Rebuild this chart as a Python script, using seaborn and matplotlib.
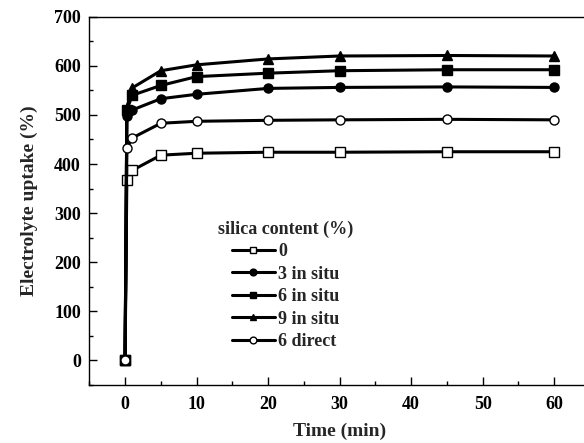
import numpy as np
import pandas as pd
import matplotlib
matplotlib.use('Agg')
import matplotlib.pyplot as plt
import seaborn as sns
from matplotlib.ticker import MultipleLocator

# data
time_min = [0, 0.25, 1, 5, 10, 20, 30, 45, 60]
uptake_0 = [0, 368, 387, 418, 422, 424, 424, 425, 425]
uptake_3_insitu = [0, 497, 510, 533, 542, 554, 556, 557, 556]
uptake_6_insitu = [0, 510, 540, 560, 578, 585, 590, 592, 592]
uptake_9_insitu = [0, 515, 555, 590, 602, 614, 620, 621, 620]
uptake_6_direct = [0, 433, 453, 483, 487, 489, 490, 491, 490]
labels = ['0', '3 in situ', '6 in situ', '9 in situ', '6 direct']

sns.set_style('ticks')
plt.rcParams['font.family'] = ['Liberation Serif', 'DejaVu Serif']
plt.rcParams['font.weight'] = 'bold'

fig = plt.figure(figsize=(5.84, 4.43), dpi=100)
ax = fig.add_axes([0.1529, 0.1309, 1.0103 - 0.1529, 0.9623 - 0.1309])

series = [uptake_0, uptake_3_insitu, uptake_6_insitu, uptake_9_insitu, uptake_6_direct]
markers = ['s', 'o', 's', '^', 'o']
faces = ['white', 'black', 'black', 'black', 'white']
for y, lab, m, fc in zip(series, labels, markers, faces):
    sns.lineplot(x=time_min, y=y, ax=ax, color='black', lw=2.2, marker=m,
                 markersize=6.5, markerfacecolor=fc, markeredgecolor='black',
                 markeredgewidth=1.0, label=lab)

ax.set_xlim(-5, 65)
ax.set_ylim(-50, 700)
ax.xaxis.set_major_locator(MultipleLocator(10))
ax.xaxis.set_minor_locator(MultipleLocator(5))
ax.yaxis.set_major_locator(MultipleLocator(100))
ax.yaxis.set_minor_locator(MultipleLocator(50))
ax.tick_params(which='both', direction='in', width=1, colors='black', labelsize=13)
ax.tick_params(which='major', length=6)
ax.tick_params(which='minor', length=3)
ax.tick_params(axis='x', pad=8)
ax.tick_params(axis='y', pad=6)
for sp in ax.spines.values():
    sp.set_linewidth(1)
    sp.set_color('black')

ax.set_xlabel('Time (min)', fontsize=14, fontweight='bold', labelpad=7)
ax.set_ylabel('Electrolyte uptake (%)', fontsize=14, fontweight='bold', labelpad=12)

leg = ax.legend(title='silica content (%)', loc='upper left', bbox_to_anchor=(0.239, 0.471),
                frameon=False, fontsize=13, title_fontsize=13, handlelength=2.4,
                handletextpad=0.2, labelspacing=0.3, borderpad=0, markerscale=0.75)
leg.get_title().set_fontweight('bold')

plt.savefig('out.png', dpi=100)
